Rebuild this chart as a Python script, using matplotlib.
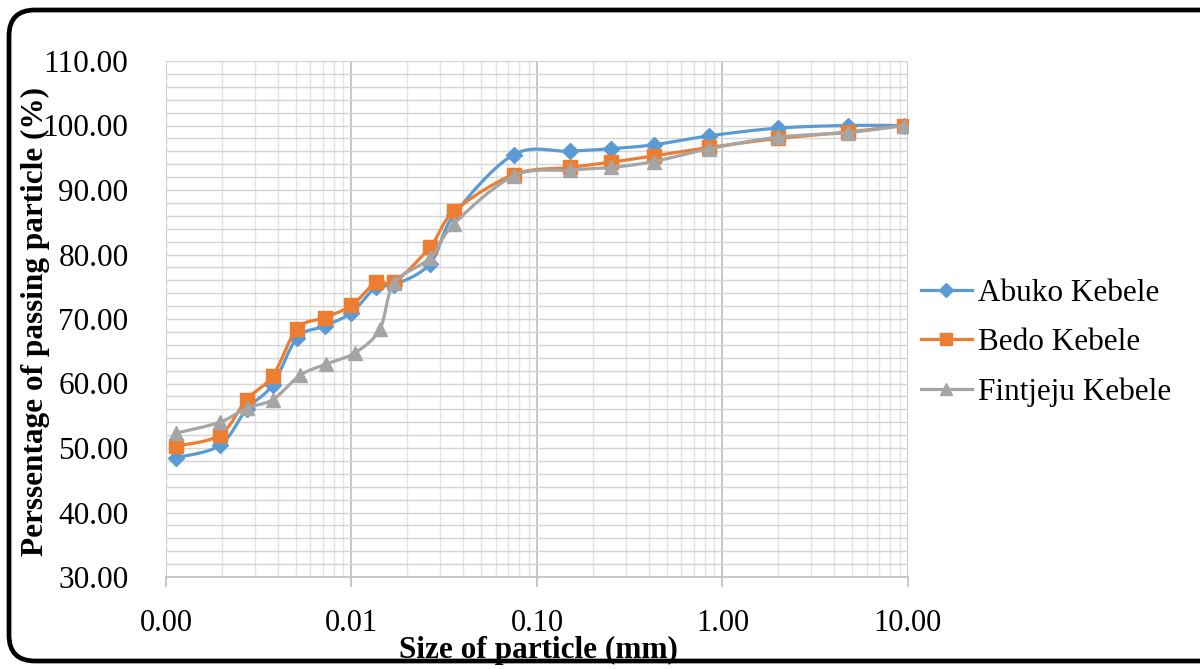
import numpy as np
import matplotlib
matplotlib.use("Agg")
from matplotlib import pyplot as plt
from matplotlib.patches import FancyBboxPatch
from matplotlib.ticker import FixedLocator, FuncFormatter, LogLocator, NullFormatter

plt.rcParams['font.family'] = ['Liberation Serif', 'DejaVu Serif']

# particle sizes (mm)
size_mm = [0.00113, 0.00195, 0.00272, 0.00376, 0.0051, 0.00716, 0.0100, 0.0136, 0.0170,
           0.0266, 0.0358, 0.075, 0.15, 0.25, 0.425, 0.85, 2.0, 4.75, 9.5]
size_fint = [0.00113, 0.00195, 0.00272, 0.00376, 0.0053, 0.0073, 0.0105, 0.0142, 0.0170,
             0.0266, 0.0358, 0.075, 0.15, 0.25, 0.425, 0.85, 2.0, 4.75, 9.5]

# percentage passing
abuko = [48.5, 50.4, 56.0, 59.8, 67.1, 68.9, 71.0, 75.0, 75.3, 78.6, 86.2, 95.5,
         96.0, 96.4, 97.0, 98.4, 99.6, 100.0, 100.0]
bedo = [50.3, 52.0, 57.5, 61.2, 68.5, 70.2, 72.1, 75.7, 75.7, 81.2, 86.7, 92.4,
        93.5, 94.3, 95.3, 96.6, 98.0, 99.0, 100.0]
fintjeju = [52.3, 54.0, 56.2, 57.5, 61.3, 63.0, 64.8, 68.4, 75.6, 79.5, 84.8, 92.2,
            93.1, 93.5, 94.4, 96.4, 98.2, 98.9, 100.0]

series_names = ['Abuko Kebele', 'Bedo Kebele', 'Fintjeju Kebele']
colors = ['#5B9BD5', '#ED7D31', '#A5A5A5']
markers = ['D', 's', '^']
msizes = [8.5, 10, 10]

YMIN, YMAX = 30, 110


def smooth(xs, ys, n=20):
    # excel-like smoothed line: catmull-rom bezier in screen-ish space
    sx = 185.5
    sy = 6.45
    u = np.log10(np.asarray(xs)) * sx
    v = np.asarray(ys) * sy
    P = np.column_stack([u, v])
    P = np.vstack([P[0], P, P[-1]])
    out = []
    t = np.linspace(0, 1, n)[:, None]
    for i in range(1, len(P) - 2):
        p0, p1, p2, p3 = P[i - 1], P[i], P[i + 1], P[i + 2]
        c1 = p1 + (p2 - p0) / 6.0
        c2 = p2 - (p3 - p1) / 6.0
        seg = ((1 - t) ** 3) * p1 + 3 * ((1 - t) ** 2) * t * c1 + 3 * (1 - t) * t ** 2 * c2 + t ** 3 * p2
        out.append(seg if i == 1 else seg[1:])
    out = np.vstack(out)
    return 10 ** (out[:, 0] / sx), out[:, 1] / sy


fig = plt.figure(figsize=(12, 6.69), dpi=100)

# rounded frame
bg = fig.add_axes([0, 0, 1, 1])
bg.set_xlim(0, 1200)
bg.set_ylim(0, 669)
bg.axis('off')
bg.add_patch(FancyBboxPatch((9, 8), 1220, 651, boxstyle="round,pad=0,rounding_size=26",
                            fc='white', ec='black', lw=3.4, clip_on=False))

ax = fig.add_axes([166 / 1200, 92 / 669, 742 / 1200, 516 / 669])
ax.set_xscale('log')
ax.set_xlim(0.001, 10)
ax.set_ylim(YMIN, YMAX)

ax.yaxis.set_major_locator(FixedLocator(np.arange(30, 111, 10)))
ax.yaxis.set_minor_locator(FixedLocator(np.arange(30, 111, 2)))
ax.yaxis.set_major_formatter(FuncFormatter(lambda v, p: f"{v:.2f}"))
ax.xaxis.set_major_locator(FixedLocator([0.001, 0.01, 0.1, 1, 10]))
ax.xaxis.set_minor_locator(LogLocator(base=10, subs=np.arange(2, 10)))
ax.xaxis.set_minor_formatter(NullFormatter())
ax.xaxis.set_major_formatter(FuncFormatter(lambda v, p: f"{v:.2f}"))

ax.grid(True, which='minor', axis='y', color='#d4d4d4', lw=1.0)
ax.grid(True, which='major', axis='y', color='#d4d4d4', lw=1.0)
ax.grid(True, which='minor', axis='x', color='#e3e3e3', lw=1.0)
ax.grid(True, which='major', axis='x', color='#bdbdbd', lw=1.2)
ax.set_axisbelow(True)

for s in ['top', 'right', 'left']:
    ax.spines[s].set_visible(False)
ax.spines['bottom'].set_color('#bfbfbf')
ax.spines['bottom'].set_linewidth(1.2)

ax.tick_params(axis='y', which='both', length=0, labelsize=22.5, pad=27)
ax.tick_params(axis='x', which='major', length=7, color='#bfbfbf', width=1.2, labelsize=22, pad=16)
ax.tick_params(axis='x', which='minor', length=0)

data = [(size_mm, abuko), (size_mm, bedo), (size_fint, fintjeju)]
for k, (xs, ys) in enumerate(data):
    sxv, syv = smooth(xs, ys)
    ax.plot(sxv, syv, color=colors[k], lw=2.3, zorder=3 + k, solid_capstyle='round')
    ax.plot(xs, ys, ls='none', marker=markers[k], ms=msizes[k], color=colors[k], zorder=3 + k)
    ax.plot([], [], color=colors[k], lw=2.3, marker=markers[k], ms=msizes[k] * 0.8, label=series_names[k])

fig.text(538 / 1200, 1 - 658 / 669, 'Size of particle (mm)', fontsize=22.5, fontweight='bold',
         ha='center', va='baseline')
fig.text(35 / 1200, 1 - 321 / 669, 'Perssentage of passing particle (%)', fontsize=22.5,
         fontweight='bold', rotation=90, ha='center', va='center')

fig.legend(loc='center left', bbox_to_anchor=(908 / 1200, 1 - 343 / 669), frameon=False,
           fontsize=22.5, handlelength=1.65, handletextpad=0.2, labelspacing=0.66, borderaxespad=0)

fig.savefig('out.png', dpi=100)
